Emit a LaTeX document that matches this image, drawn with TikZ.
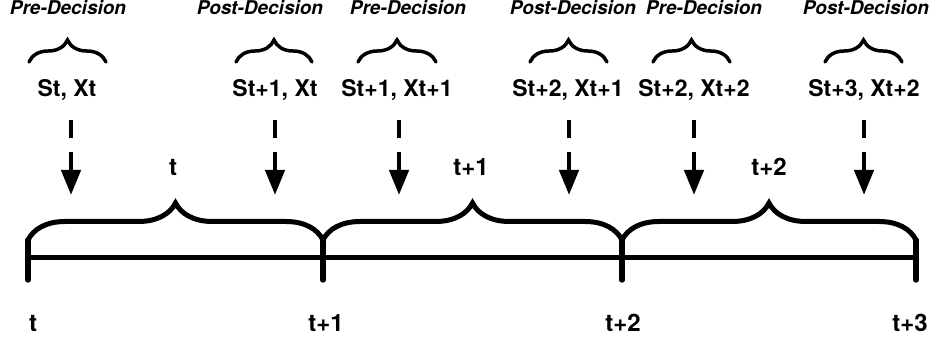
\documentclass[tikz,border=0pt]{standalone}
\usepackage{fontspec}
\setmainfont{TeX Gyre Heros}
\usetikzlibrary{arrows.meta,decorations.pathreplacing}

\begin{document}
\begin{tikzpicture}[x=1pt,y=1pt]

      \tikzset{phase/.style={font=\fontsize{19}{22}\selectfont\bfseries\itshape, inner sep=0pt},
               state/.style={font=\fontsize{23}{26}\selectfont\bfseries, inner sep=0pt},
               period/.style={font=\fontsize{24}{28}\selectfont\bfseries, inner sep=0pt},
               smallbrace/.style={decorate, decoration={brace, amplitude=22pt}, line width=3.5pt, line cap=round},
               bigbrace/.style={decorate, decoration={brace, amplitude=37pt}, line width=5pt, line cap=round},
               dasharrow/.style={line width=4.5pt, dash pattern=on 18pt off 14pt, -{Triangle[length=25pt, width=19pt]}},
               timetick/.style={line width=5.5pt, line cap=round}}
      \useasboundingbox (0,0) rectangle (936,347);
% Phases
	%Headers
		\node[phase] (h1) at (68,339) {Pre-Decision};
		\node[phase] (h2) at (260,339) {Post-Decision};
		\node[phase] (h3) at (408,339) {Pre-Decision};
		\node[phase] (h4) at (573,339) {Post-Decision};
		\node[phase] (h5) at (704,339) {Pre-Decision};
		\node[phase] (h6) at (866,339) {Post-Decision};
	%Small braces
		\draw[smallbrace] (29,285) -- (106,285);
		\draw[smallbrace] (236,285) -- (312,285);
		\draw[smallbrace] (358,285) -- (436,285);
		\draw[smallbrace] (530,285) -- (607,285);
		\draw[smallbrace] (653,285) -- (730,285);
		\draw[smallbrace] (825,285) -- (902,285);
	%States
		\node[state] (s1) at (67,257) {St, Xt};
		\node[state] (s2) at (275,257) {St+1, Xt};
		\node[state] (s3) at (397,257) {St+1, Xt+1};
		\node[state] (s4) at (568,257) {St+2, Xt+1};
		\node[state] (s5) at (694,257) {St+2, Xt+2};
		\node[state] (s6) at (864,257) {St+3, Xt+2};
% Arrows
		\coordinate (u1) at (71,227);  \coordinate (d1) at (71,152);
		\coordinate (u2) at (275,227); \coordinate (d2) at (275,152);
		\coordinate (u3) at (399,227); \coordinate (d3) at (399,152);
		\coordinate (u4) at (569,227); \coordinate (d4) at (569,152);
		\coordinate (u5) at (694,227); \coordinate (d5) at (694,152);
		\coordinate (u6) at (864,227); \coordinate (d6) at (864,152);
		\draw[dasharrow] (u1) -- (d1);
		\draw[dasharrow] (u2) -- (d2);
		\draw[dasharrow] (u3) -- (d3);
		\draw[dasharrow] (u4) -- (d4);
		\draw[dasharrow] (u5) -- (d5);
		\draw[dasharrow] (u6) -- (d6);
% Time line
	%Points
		\coordinate (p0) at (28,89);
		\coordinate (p1) at (323,89);
		\coordinate (p2) at (622,89);
		\coordinate (p3) at (916,89);
		\draw[line width=5pt] (p0) -- (p3);
		\draw[timetick] ([yshift=18pt]p0) -- ([yshift=-22pt]p0);
		\draw[timetick] ([yshift=18pt]p1) -- ([yshift=-22pt]p1);
		\draw[timetick] ([yshift=18pt]p2) -- ([yshift=-22pt]p2);
		\draw[timetick] ([yshift=18pt]p3) -- ([yshift=-22pt]p3);
	%Periods
		\draw[bigbrace] ([yshift=18pt]p0) -- ([yshift=18pt]p1);
		\draw[bigbrace] ([yshift=18pt]p1) -- ([yshift=18pt]p2);
		\draw[bigbrace] ([yshift=18pt]p2) -- ([yshift=18pt]p3);
		\node[period] (t0) at (173,180) {t};
		\node[period] (t1) at (471,180) {t+1};
		\node[period] (t2) at (769,180) {t+2};
	%Ticks
		\node[period] (k0) at (33,24) {t};
		\node[period] (k1) at (326,24) {t+1};
		\node[period] (k2) at (623,24) {t+2};
		\node[period] (k3) at (910,24) {t+3};

\end{tikzpicture}
\end{document}
